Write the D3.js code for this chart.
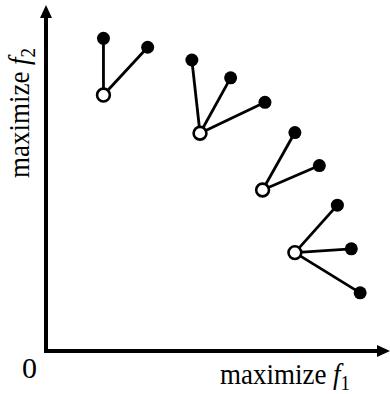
<!DOCTYPE html>
<html lang="en">
<head>
  <meta charset="UTF-8">
  <title>Pareto moves</title>
  <style>
    body { margin: 0; background: #fff; }
    text { font-family: "Liberation Serif", "Times New Roman", serif; fill: #000; }
  </style>
</head>
<body>
  <div class="canvas"></div>
  <script src="https://cdnjs.cloudflare.com/ajax/libs/d3/7.8.5/d3.min.js"></script>
  <script>
// open points (current solutions), f1 / f2 in arbitrary units
const openF1 = [16.9, 45.3, 63.7, 73.2];
const openF2 = [74.4, 63.3, 46.8, 28.6];

// filled points (neighbours), grouped by which open point they belong to
const nbrGroup = [0, 0, 1, 1, 1, 2, 2, 3, 3, 3];
const nbrF1 = [16.9, 29.9, 42.9, 54.3, 64.4, 73.2, 80.4, 85.7, 89.8, 92.4];
const nbrF2 = [90.9, 88.3, 84.6, 79.4, 72.3, 63.5, 53.9, 42.4, 29.7, 16.9];

const xLabel = 'maximize ';
const yLabel = 'maximize ';
const originLabel = '0';

const width = 390, height = 394;

const svg = d3.select('.canvas').append('svg')
  .attr('width', width)
  .attr('height', height);

const x = d3.scaleLinear().domain([0, 100]).range([46, 386]);
const y = d3.scaleLinear().domain([0, 100]).range([351, 7]);

// axes with arrow heads
svg.append('line')
  .attr('x1', x(0)).attr('y1', y(0) + 2)
  .attr('x2', x(0)).attr('y2', 16)
  .attr('stroke', '#000').attr('stroke-width', 4);
svg.append('path')
  .attr('d', `M ${x(0)} 5 L ${x(0) - 6} 18 L ${x(0) + 6} 18 Z`)
  .attr('fill', '#000');

svg.append('line')
  .attr('x1', x(0) - 2).attr('y1', y(0))
  .attr('x2', 379).attr('y2', y(0))
  .attr('stroke', '#000').attr('stroke-width', 4);
svg.append('path')
  .attr('d', `M 390 ${y(0)} L 377 ${y(0) - 6} L 377 ${y(0) + 6} Z`)
  .attr('fill', '#000');

// links from each open point to its neighbours
svg.append('g')
  .selectAll('line')
  .data(nbrF1)
  .join('line')
  .attr('x1', (d, i) => x(openF1[nbrGroup[i]]))
  .attr('y1', (d, i) => y(openF2[nbrGroup[i]]))
  .attr('x2', (d, i) => x(nbrF1[i]))
  .attr('y2', (d, i) => y(nbrF2[i]))
  .attr('stroke', '#000')
  .attr('stroke-width', 2.8);

svg.append('g')
  .selectAll('circle')
  .data(nbrF1)
  .join('circle')
  .attr('cx', (d, i) => x(nbrF1[i]))
  .attr('cy', (d, i) => y(nbrF2[i]))
  .attr('r', 6.5)
  .attr('fill', '#000');

svg.append('g')
  .selectAll('circle')
  .data(openF1)
  .join('circle')
  .attr('cx', (d, i) => x(openF1[i]))
  .attr('cy', (d, i) => y(openF2[i]))
  .attr('r', 6.4)
  .attr('fill', '#fff')
  .attr('stroke', '#000')
  .attr('stroke-width', 2.6);

// labels
svg.append('text')
  .attr('x', 22).attr('y', 378)
  .style('font-size', '30px')
  .text(originLabel);

const xl = svg.append('text')
  .attr('transform', 'translate(220, 384) scale(0.9, 1)')
  .style('font-size', '30px');
xl.append('tspan').text(xLabel);
xl.append('tspan').style('font-style', 'italic').text('f');
xl.append('tspan').attr('dy', 6).style('font-size', '21px').text('1');

const yl = svg.append('text')
  .attr('transform', 'translate(29, 178) rotate(-90) scale(0.9, 1)')
  .style('font-size', '30px');
yl.append('tspan').text(yLabel);
yl.append('tspan').style('font-style', 'italic').text('f');
yl.append('tspan').attr('dy', 6).style('font-size', '21px').text('2');
  </script>
</body>
</html>
